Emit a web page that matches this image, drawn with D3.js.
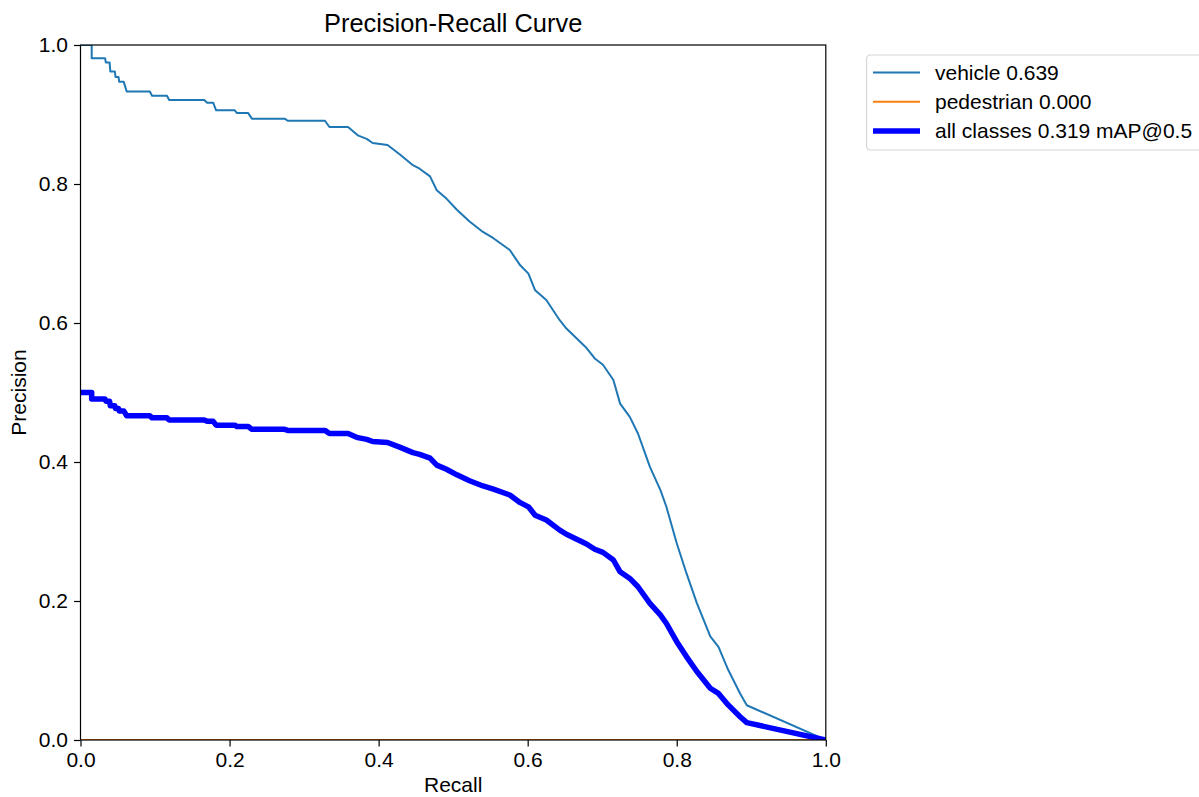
<!DOCTYPE html>
<html>
<head>
<meta charset="utf-8">
<script src="https://cdn.jsdelivr.net/npm/d3@7"></script>
<style>
  body { margin: 0; background: #fff; }
  text { font-family: "Liberation Sans", Arial, sans-serif; fill: #000; }
</style>
</head>
<body>
<svg id="chart" width="1199" height="797"></svg>
<script>
// recall grid for the vehicle class and the mean over classes
const recall = [
  0.000, 0.015, 0.015, 0.033, 0.034, 0.039, 0.040, 0.046, 0.047, 0.051,
  0.052, 0.058, 0.062, 0.093, 0.096, 0.116, 0.119, 0.166, 0.170, 0.178,
  0.182, 0.207, 0.210, 0.225, 0.230, 0.274, 0.278, 0.328, 0.334, 0.359,
  0.372, 0.384, 0.392, 0.412, 0.429, 0.446, 0.455, 0.469, 0.478, 0.491,
  0.505, 0.522, 0.540, 0.554, 0.576, 0.590, 0.601, 0.610, 0.625, 0.643,
  0.652, 0.679, 0.690, 0.701, 0.715, 0.724, 0.737, 0.748, 0.764, 0.778,
  0.786, 0.800, 0.813, 0.827, 0.845, 0.856, 0.869, 0.885, 0.894, 1.000
];

const vehiclePrecision = [
  1.000, 1.000, 0.981, 0.981, 0.975, 0.975, 0.962, 0.962, 0.954, 0.954,
  0.947, 0.947, 0.933, 0.933, 0.927, 0.927, 0.921, 0.921, 0.917, 0.917,
  0.906, 0.906, 0.902, 0.902, 0.894, 0.894, 0.891, 0.891, 0.882, 0.882,
  0.870, 0.865, 0.859, 0.856, 0.842, 0.827, 0.822, 0.811, 0.791, 0.779,
  0.763, 0.746, 0.731, 0.722, 0.705, 0.683, 0.671, 0.647, 0.633, 0.604,
  0.592, 0.564, 0.549, 0.540, 0.518, 0.484, 0.465, 0.441, 0.393, 0.360,
  0.336, 0.283, 0.240, 0.197, 0.149, 0.134, 0.101, 0.067, 0.050, 0.000
];

const allPrecision = [
  0.500, 0.500, 0.4905, 0.4905, 0.4875, 0.4875, 0.481, 0.481, 0.477, 0.477,
  0.4735, 0.4735, 0.4665, 0.4665, 0.4635, 0.4635, 0.4605, 0.4605, 0.4585, 0.4585,
  0.453, 0.453, 0.451, 0.451, 0.447, 0.447, 0.4455, 0.4455, 0.441, 0.441,
  0.435, 0.4325, 0.4295, 0.428, 0.421, 0.4135, 0.411, 0.4055, 0.3955, 0.3895,
  0.3815, 0.373, 0.3655, 0.361, 0.3525, 0.3415, 0.3355, 0.3235, 0.3165, 0.302,
  0.296, 0.282, 0.2745, 0.270, 0.259, 0.242, 0.2325, 0.2205, 0.1965, 0.180,
  0.168, 0.1415, 0.120, 0.0985, 0.0745, 0.067, 0.0505, 0.0335, 0.025, 0.000
];

const pedestrianRecall = [0.0, 1.0];
const pedestrianPrecision = [0.0, 0.0];

const tickValues = [0.0, 0.2, 0.4, 0.6, 0.8, 1.0];

const series = [
  { name: "vehicle 0.639", color: "#1f77b4", width: 2,
    x: recall, y: vehiclePrecision },
  { name: "pedestrian 0.000", color: "#ff7f0e", width: 2,
    x: pedestrianRecall, y: pedestrianPrecision },
  { name: "all classes 0.319 mAP@0.5", color: "#0000ff", width: 5.5,
    x: recall, y: allPrecision }
];

const plot = { left: 80.5, right: 825.8, top: 45, bottom: 740 };

const svg = d3.select("#chart");

const x = d3.scaleLinear().domain([0, 1]).range([plot.left, plot.right]);
const y = d3.scaleLinear().domain([0, 1]).range([plot.bottom, plot.top]);

svg.append("defs").append("clipPath").attr("id", "plot-clip")
  .append("rect")
  .attr("x", plot.left)
  .attr("y", plot.top)
  .attr("width", plot.right - plot.left)
  .attr("height", plot.bottom - plot.top);

const line = d3.line()
  .x(d => x(d[0]))
  .y(d => y(d[1]));

const lines = svg.append("g").attr("clip-path", "url(#plot-clip)");
series.forEach(s => {
  lines.append("path")
    .datum(s.x.map((r, i) => [r, s.y[i]]))
    .attr("d", line)
    .attr("fill", "none")
    .attr("stroke", s.color)
    .attr("stroke-width", s.width)
    .attr("stroke-linejoin", "round");
});

// axes
const fmt = d3.format(".1f");

const xAxis = svg.append("g")
  .attr("transform", `translate(0,${plot.bottom})`)
  .call(d3.axisBottom(x).tickValues(tickValues).tickFormat(fmt).tickSizeOuter(0).tickSize(6.5).tickPadding(6));
const yAxis = svg.append("g")
  .attr("transform", `translate(${plot.left},0)`)
  .call(d3.axisLeft(y).tickValues(tickValues).tickFormat(fmt).tickSizeOuter(0).tickSize(6.5).tickPadding(6));

[xAxis, yAxis].forEach(a => {
  a.select(".domain").remove();
  a.selectAll(".tick line").attr("stroke", "#000").attr("stroke-width", 1.2);
  a.selectAll(".tick text")
    .style("font-family", '"Liberation Sans", Arial, sans-serif')
    .style("font-size", "21px")
    .attr("fill", "#000");
});

// frame on all four sides
svg.append("rect")
  .attr("x", plot.left)
  .attr("y", plot.top)
  .attr("width", plot.right - plot.left)
  .attr("height", plot.bottom - plot.top)
  .attr("fill", "none")
  .attr("stroke", "#000")
  .attr("stroke-width", 1.2);

svg.append("text")
  .attr("x", (plot.left + plot.right) / 2)
  .attr("y", 32)
  .attr("text-anchor", "middle")
  .style("font-size", "25.4px")
  .text("Precision-Recall Curve");

svg.append("text")
  .attr("x", (plot.left + plot.right) / 2)
  .attr("y", 792)
  .attr("text-anchor", "middle")
  .style("font-size", "21px")
  .text("Recall");

svg.append("text")
  .attr("transform", `translate(26,${(plot.top + plot.bottom) / 2}) rotate(-90)`)
  .attr("text-anchor", "middle")
  .style("font-size", "21px")
  .text("Precision");

// legend
const legend = svg.append("g").attr("transform", "translate(866.5,55)");
legend.append("rect")
  .attr("width", 345)
  .attr("height", 95)
  .attr("rx", 4)
  .attr("fill", "#fff")
  .attr("stroke", "#d6d6d6")
  .attr("stroke-width", 1.2);

series.forEach((s, i) => {
  const cy = 17.5 + i * 29.2;
  legend.append("line")
    .attr("x1", 6.5).attr("x2", 53.5)
    .attr("y1", cy).attr("y2", cy)
    .attr("stroke", s.color)
    .attr("stroke-width", s.width);
  legend.append("text")
    .attr("x", 68.5)
    .attr("y", cy + 7.5)
    .style("font-size", "21px")
    .text(s.name);
});
</script>
</body>
</html>
